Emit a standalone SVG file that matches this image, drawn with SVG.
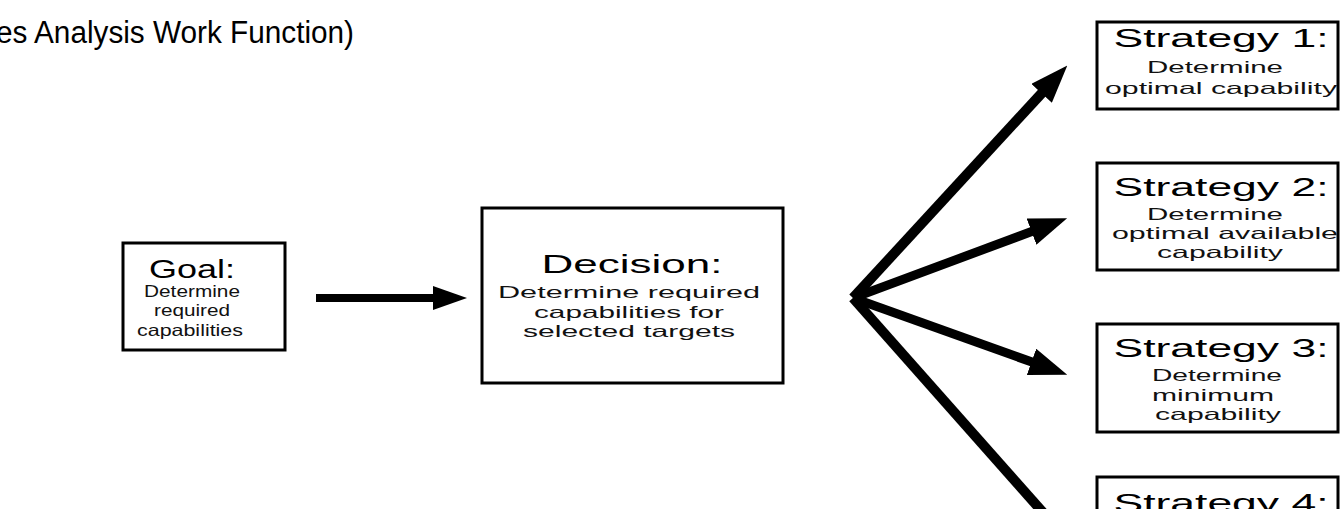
<svg xmlns="http://www.w3.org/2000/svg" width="1340" height="509" viewBox="0 0 1340 509">
<style>
.box{fill:#fff;stroke:#000;stroke-width:3}
text{font-family:"Liberation Sans",Arial,sans-serif;fill:#000;text-anchor:middle}
.h{font-size:25px}
.b{font-size:16.5px;fill:#111}
.gh{font-size:25px}
.gb{font-size:16.5px;fill:#111}
.t{font-size:31px;text-anchor:start}
.c{fill:none;stroke:#000;stroke-linecap:butt}
</style>
<defs>
<marker id="ah" viewBox="0 0 34 24" refX="6" refY="12" markerWidth="34" markerHeight="24" markerUnits="userSpaceOnUse" orient="auto">
<path d="M0,0 L34,12 L0,24 Z" fill="#000"/>
</marker>
<marker id="ah2" viewBox="0 0 38 28" refX="8" refY="14" markerWidth="38" markerHeight="28" markerUnits="userSpaceOnUse" orient="auto">
<path d="M0,0 L38,14 L0,28 Z" fill="#000"/>
</marker>
</defs>
<rect width="1340" height="509" fill="#fff"/>
<g id="title">
<text class="t" x="-4" y="43" textLength="358" lengthAdjust="spacingAndGlyphs">es Analysis Work Function)</text>
</g>
<g id="connectors">
<line class="c" x1="316" y1="298" x2="439" y2="298" stroke-width="8" marker-end="url(#ah)"/>
<line class="c" x1="853" y1="298" x2="1047" y2="87.5" stroke-width="10" marker-end="url(#ah2)"/>
<line class="c" x1="853" y1="298" x2="1039" y2="228.8" stroke-width="9" marker-end="url(#ah2)"/>
<line class="c" x1="853" y1="298" x2="1039" y2="364.6" stroke-width="9" marker-end="url(#ah2)"/>
<line class="c" x1="853" y1="298" x2="1055" y2="526" stroke-width="10"/>
</g>
<g id="goal">
<rect class="box" x="123" y="243" width="162" height="107"/>
<text class="gh" x="192" y="278" textLength="86" lengthAdjust="spacingAndGlyphs">Goal:</text>
<text class="gb" x="192" y="297" textLength="96" lengthAdjust="spacingAndGlyphs">Determine</text>
<text class="gb" x="192" y="316" textLength="76" lengthAdjust="spacingAndGlyphs">required</text>
<text class="gb" x="190" y="336" textLength="106" lengthAdjust="spacingAndGlyphs">capabilities</text>
</g>
<g id="decision">
<rect class="box" x="482" y="208" width="301" height="175"/>
<text class="h" x="632" y="273" textLength="181" lengthAdjust="spacingAndGlyphs">Decision:</text>
<text class="b" x="629" y="298" textLength="262" lengthAdjust="spacingAndGlyphs">Determine required</text>
<text class="b" x="629" y="318" textLength="190" lengthAdjust="spacingAndGlyphs">capabilities for</text>
<text class="b" x="629" y="337" textLength="212" lengthAdjust="spacingAndGlyphs">selected targets</text>
</g>
<g id="strategy1">
<rect class="box" x="1097" y="22" width="241" height="87"/>
<text class="h" x="1221" y="47" textLength="215" lengthAdjust="spacingAndGlyphs">Strategy 1:</text>
<text class="b" x="1215" y="73" textLength="136" lengthAdjust="spacingAndGlyphs">Determine</text>
<text class="b" x="1221" y="94" textLength="232" lengthAdjust="spacingAndGlyphs">optimal capability</text>
</g>
<g id="strategy2">
<rect class="box" x="1097" y="163" width="241" height="107"/>
<text class="h" x="1221" y="196" textLength="215" lengthAdjust="spacingAndGlyphs">Strategy 2:</text>
<text class="b" x="1215" y="220" textLength="136" lengthAdjust="spacingAndGlyphs">Determine</text>
<text class="b" x="1225" y="239" textLength="226" lengthAdjust="spacingAndGlyphs">optimal available</text>
<text class="b" x="1220" y="258" textLength="126" lengthAdjust="spacingAndGlyphs">capability</text>
</g>
<g id="strategy3">
<rect class="box" x="1097" y="324" width="241" height="108"/>
<text class="h" x="1221" y="357" textLength="215" lengthAdjust="spacingAndGlyphs">Strategy 3:</text>
<text class="b" x="1217" y="381" textLength="130" lengthAdjust="spacingAndGlyphs">Determine</text>
<text class="b" x="1213" y="401" textLength="122" lengthAdjust="spacingAndGlyphs">minimum</text>
<text class="b" x="1218" y="420" textLength="126" lengthAdjust="spacingAndGlyphs">capability</text>
</g>
<g id="strategy4">
<rect class="box" x="1097" y="477" width="241" height="60"/>
<text class="h" x="1221" y="512" textLength="215" lengthAdjust="spacingAndGlyphs">Strategy 4:</text>
</g>
</svg>
